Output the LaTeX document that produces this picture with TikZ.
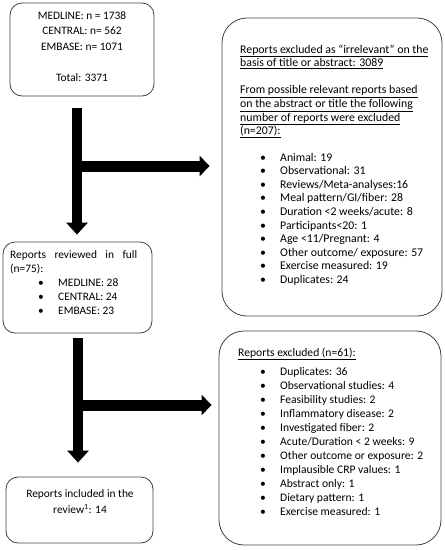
\documentclass[tikz,border=0pt]{standalone}
\usepackage{fontspec}
\setmainfont{Carlito}
\usetikzlibrary{arrows.meta}
\newcommand\bitem[1]{\makebox[20pt][l]{\textbullet}#1}
\begin{document}
\begin{tikzpicture}[x=1pt,y=-1pt,
  box/.style={draw=black!75, line width=0.8pt, rounded corners=#1, inner sep=0pt},
  txt/.style={inner sep=0pt, anchor=base west},
  bigarrow/.style={line width=10pt, -{Triangle[length=12pt,width=21pt]}},
  branch/.style={line width=11pt, -{Triangle[length=10pt,width=20pt]}}]
\useasboundingbox (0,0) rectangle (445,550);
% boxes
\node[box=12, minimum width=144pt, minimum height=93pt] (b1) at (82,49.5) {};
\node[box=25, minimum width=220pt, minimum height=298pt] (b2) at (332,167) {};
\node[box=25, minimum width=222pt, minimum height=214pt] (b3) at (330,438) {};
\node[box=12, minimum width=149pt, minimum height=91pt] (b4) at (77.5,287.5) {};
\node[box=12, minimum width=147pt, minimum height=66pt] (b5) at (79.5,510) {};
% box 1 text
\node[txt, anchor=base] (t1) at (82,19)
  {\fontsize{11.4}{15.5}\selectfont\begin{tabular}[t]{@{}c@{}}MEDLINE: n = 1738\\CENTRAL: n= 562\\EMBASE: n= 1071\\[15.5pt]Total: 3371\end{tabular}};
% box 2 text
\node[txt] (t2) at (240,53)
  {\fontsize{11.8}{13.6}\selectfont\begin{tabular}[t]{@{}l@{}}
   \underline{Reports excluded as “irrelevant” on the}\\
   \underline{basis of title or abstract: 3089}\\[13.6pt]
   \underline{From possible relevant reports based}\\
   \underline{on the abstract or title the following}\\
   \underline{number of reports were excluded}\\
   \underline{(n=207):}\end{tabular}};
\node[txt] (l2) at (260,161)
  {\fontsize{11.8}{13.6}\selectfont\begin{tabular}[t]{@{}l@{}}
   \bitem{Animal: 19}\\
   \bitem{Observational: 31}\\
   \bitem{Reviews/Meta-analyses:16}\\
   \bitem{Meal pattern/GI/fiber: 28}\\
   \bitem{Duration <2 weeks/acute: 8}\\
   \bitem{Participants<20: 1}\\
   \bitem{Age <11/Pregnant: 4}\\
   \bitem{Other outcome/ exposure: 57}\\
   \bitem{Exercise measured: 19}\\
   \bitem{Duplicates: 24}\end{tabular}};
% box 3 text
\node[txt, font=\fontsize{11.6}{14}\selectfont] (t3) at (238,356) {\underline{Reports excluded (n=61):}};
\node[txt] (l3) at (260,375)
  {\fontsize{11.6}{14}\selectfont\begin{tabular}[t]{@{}l@{}}
   \bitem{Duplicates: 36}\\
   \bitem{Observational studies: 4}\\
   \bitem{Feasibility studies: 2}\\
   \bitem{Inflammatory disease: 2}\\
   \bitem{Investigated fiber: 2}\\
   \bitem{Acute/Duration < 2 weeks: 9}\\
   \bitem{Other outcome or exposure: 2}\\
   \bitem{Implausible CRP values: 1}\\
   \bitem{Abstract only: 1}\\
   \bitem{Dietary pattern: 1}\\
   \bitem{Exercise measured: 1}\end{tabular}};
% box 4 text
\node[txt] (t4) at (10,258)
  {\fontsize{11.4}{14}\selectfont\begin{tabular}[t]{@{}l@{}}
   \makebox[127pt][s]{Reports reviewed in full}\\
   (n=75):\\
   \hspace*{28pt}\bitem{MEDLINE: 28}\\
   \hspace*{28pt}\bitem{CENTRAL: 24}\\
   \hspace*{28pt}\bitem{EMBASE: 23}\end{tabular}};
% box 5 text
\node[txt, anchor=base] (t5) at (80,497)
  {\fontsize{11.4}{16}\selectfont\begin{tabular}[t]{@{}c@{}}Reports included in the\\review\textsuperscript{1}: 14\end{tabular}};
% arrows
\coordinate (c1) at (77,0);
\coordinate (j1) at (77,166);
\coordinate (c2) at (78,0);
\coordinate (j2) at (78,405);
\draw[bigarrow, shorten <=12pt, shorten >=7pt] (b1.south -| c1) -- (b4.north -| c1);
\draw[branch, shorten >=12pt] ([xshift=-5pt]j1) -- (b2.west |- j1);
\draw[bigarrow, shorten <=5pt, shorten >=14pt] (b4.south -| c2) -- (b5.north -| c2);
\draw[branch, shorten >=7pt] ([xshift=-5pt]j2) -- (b3.west |- j2);
\end{tikzpicture}
\end{document}
